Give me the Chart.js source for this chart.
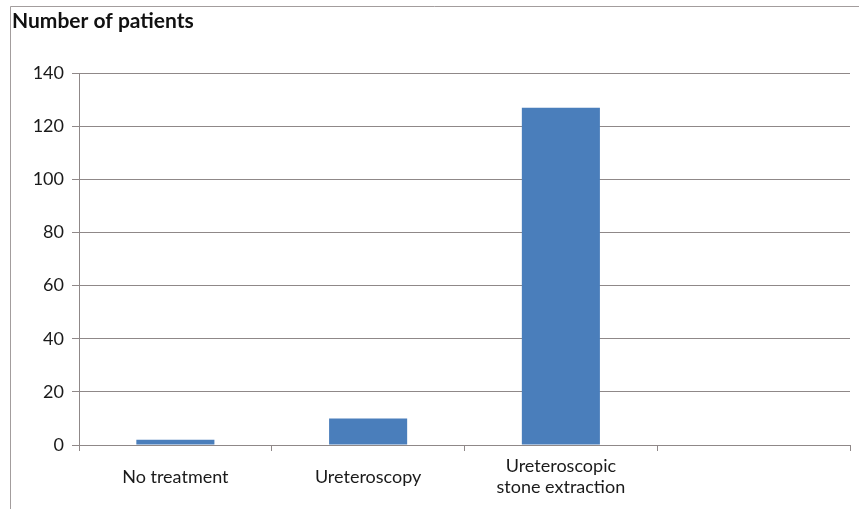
<!DOCTYPE html>
<html>
<head>
<meta charset="utf-8">
<script src="https://cdn.jsdelivr.net/npm/chart.js@4"></script>
<style>
  html, body { margin: 0; padding: 0; background: #fff; }
  #wrap { position: relative; width: 859px; height: 509px; }
</style>
</head>
<body>
<div id="wrap"><canvas id="chart" width="859" height="509"></canvas></div>
<script>
const categories = ['No treatment', 'Ureteroscopy', ['Ureteroscopic', 'stone extraction'], ''];
const patients = [2, 10, 127, null];
const yTicks = [0, 20, 40, 60, 80, 100, 120, 140];

const lineColor = '#8f8888';
const fontFamily = 'Lato, "Open Sans", sans-serif';

// thin frame around the figure (left and top edges only, like the source image)
const framePlugin = {
  id: 'frame',
  beforeDraw(chart) {
    const ctx = chart.ctx;
    ctx.save();
    ctx.strokeStyle = '#a39d9d';
    ctx.lineWidth = 1;
    ctx.beginPath();
    ctx.moveTo(10.5, 509);
    ctx.lineTo(10.5, 6.5);
    ctx.lineTo(859, 6.5);
    ctx.stroke();
    ctx.restore();
  }
};

new Chart(document.getElementById('chart'), {
  type: 'bar',
  data: {
    labels: categories,
    datasets: [{
      label: 'Number of patients',
      data: patients,
      backgroundColor: '#4a7ebb',
      borderWidth: 0,
      categoryPercentage: 1,
      barPercentage: 0.405
    }]
  },
  options: {
    responsive: false,
    animation: false,
    layout: { padding: { left: 12, right: 9, top: 0, bottom: 0 } },
    plugins: {
      legend: { display: false },
      tooltip: { enabled: false },
      title: {
        display: true,
        text: 'Number of patients',
        align: 'start',
        color: '#111',
        font: { family: fontFamily, size: 21, weight: 'bold' },
        padding: { top: 9, bottom: 39 }
      }
    },
    scales: {
      x: {
        offset: true,
        grid: {
          offset: true,
          drawOnChartArea: false,
          color: lineColor,
          tickLength: 6
        },
        border: { color: lineColor },
        ticks: {
          color: '#1a1a1a',
          font: { family: fontFamily, size: 18 },
          padding: 15,
          maxRotation: 0,
          crossAlign: 'center'
        },
        afterFit(scale) { scale.height = 64; }
      },
      y: {
        min: 0,
        max: 140,
        afterBuildTicks(scale) { scale.ticks = yTicks.map(v => ({ value: v })); },
        grid: { color: lineColor, tickLength: 7 },
        border: { color: lineColor },
        ticks: {
          color: '#1a1a1a',
          font: { family: fontFamily, size: 18 },
          padding: 8
        },
        afterFit(scale) { scale.width = 67; }
      }
    }
  },
  plugins: [framePlugin]
});
</script>
</body>
</html>
